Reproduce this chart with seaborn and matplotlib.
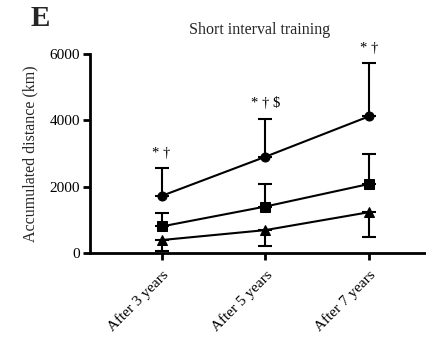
import matplotlib
matplotlib.use("Agg")
import matplotlib.pyplot as plt
import seaborn as sns
import pandas as pd
import numpy as np

categories = ["After 3 years", "After 5 years", "After 7 years"]
circle_vals = [1720, 2900, 4120]
circle_err_up = [840, 1150, 1600]
square_vals = [800, 1400, 2080]
square_err_up = [420, 690, 920]
triangle_vals = [390, 690, 1230]
triangle_err_down = [330, 480, 760]
annotations = ["* †", "* † $", "* †"]
yticks = [0, 2000, 4000, 6000]

sns.set_theme(style="ticks")
plt.rcParams['font.family'] = ['Liberation Serif', 'DejaVu Serif']

fig = plt.figure(figsize=(4.26, 3.46), dpi=100)
ax = fig.add_axes([90/426, (346-253)/346, 1 - 90/426, (253-54)/346])

x = np.arange(len(categories))
df = pd.DataFrame({
    "pos": np.concatenate([x, x, x]),
    "value": circle_vals + square_vals + triangle_vals,
    "group": ["c"] * 3 + ["s"] * 3 + ["t"] * 3,
})

for grp, mk, ms in [("c", "o", 6.5), ("s", "s", 6.5), ("t", "^", 6.5)]:
    sub = df[df.group == grp]
    sns.lineplot(data=sub, x="pos", y="value", ax=ax, color="black",
                 marker=mk, markersize=ms, linewidth=1.5, markeredgecolor="black",
                 legend=False, zorder=3)

ax.errorbar(x, circle_vals, yerr=[np.zeros(3), circle_err_up], fmt="none",
            ecolor="black", elinewidth=1.5, capsize=5, capthick=1.5, zorder=2)
ax.errorbar(x, square_vals, yerr=[np.zeros(3), square_err_up], fmt="none",
            ecolor="black", elinewidth=1.5, capsize=5, capthick=1.5, zorder=2)
ax.errorbar(x, triangle_vals, yerr=[triangle_err_down, np.zeros(3)], fmt="none",
            ecolor="black", elinewidth=1.5, capsize=5, capthick=1.5, zorder=2)

for xi, top, txt in zip(x, np.array(circle_vals) + np.array(circle_err_up), annotations):
    ax.text(xi, top + 250, txt, ha="center", va="bottom", fontsize=10.5, color="black")

ax.set_xlim(-0.69, 2.55)
ax.set_ylim(0, 6000)
ax.set_yticks(yticks)
ax.set_yticklabels([str(v) for v in yticks], fontsize=11)
ax.set_xticks(x)
ax.set_xticklabels(categories, rotation=45, ha="right", rotation_mode="anchor", fontsize=11)
ax.set_xlabel("")
ax.set_ylabel("Accumulated distance (km)", fontsize=11.5, labelpad=8)
sns.despine(ax=ax)
for s in ["left", "bottom"]:
    ax.spines[s].set_linewidth(2)
    ax.spines[s].set_color("black")
ax.tick_params(axis="both", width=2, length=5, color="black", labelcolor="black", pad=2)
ax.tick_params(axis="x", pad=6)

fig.text(260/426, 1 - 30/346, "Short interval training", ha="center", va="center", fontsize=11.5)
fig.text(40/426, 1 - 18/346, "E", ha="center", va="center", fontsize=21, fontweight="bold")

fig.savefig("out.png", dpi=100, facecolor="white")
